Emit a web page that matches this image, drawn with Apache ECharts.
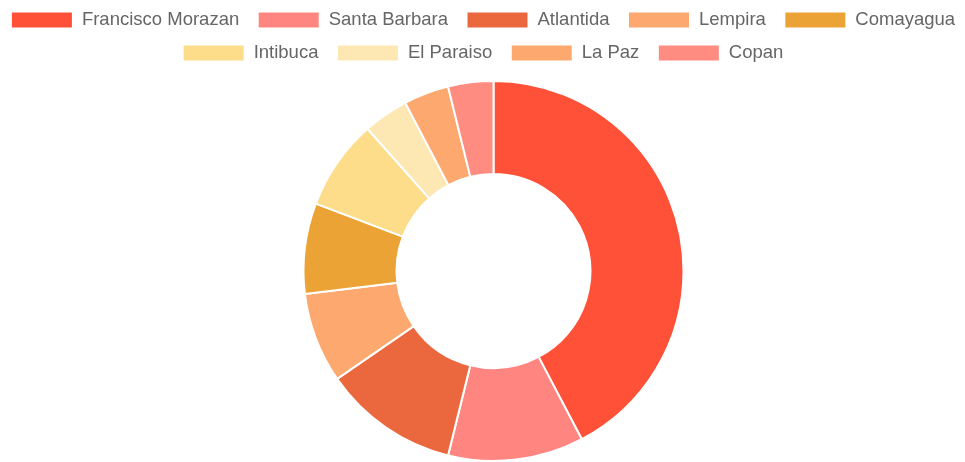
<html>
<head>
    <meta charset="utf-8">
    <title>Doughnut</title>
    <script src="https://cdn.jsdelivr.net/npm/echarts@6/dist/echarts.min.js"></script>
    <style>
        html, body { margin: 0; padding: 0; background: #fff; }
        #main { width: 965px; height: 462px; }
    </style>
</head>
<body>
<div id="main"></div>
<script>
    var departments = ['Francisco Morazan', 'Santa Barbara', 'Atlantida', 'Lempira', 'Comayagua',
        'Intibuca', 'El Paraiso', 'La Paz', 'Copan']
    var counts = [11, 3, 3, 2, 2, 2, 1, 1, 1]
    var colors = ['#FF5138', '#FF8680', '#EB683F', '#FCA86E', '#ECA336',
        '#FDDC8A', '#FDE8B4', '#FCA86E', '#FF8C80']

    var myChart = echarts.init(document.getElementById('main'))

    // two centred legend rows, like the original
    function legendRow(names, top) {
        return {
            data: names,
            top: top,
            left: 'center',
            itemWidth: 62,
            itemHeight: 17,
            itemGap: 17.5,
            icon: 'rect',
            textStyle: {
                fontFamily: 'Liberation Sans, Arial, sans-serif',
                fontSize: 18.5,
                color: '#666',
                padding: [0, 0, 0, 4]
            }
        }
    }

    myChart.setOption({
        animation: false,
        color: colors,
        legend: [
            legendRow(departments.slice(0, 5), 5.5),
            legendRow(departments.slice(5), 38.5)
        ],
        series: [
            {
                type: 'pie',
                center: [493.5, 271],
                radius: [97, 190],
                startAngle: 90,
                clockwise: true,
                label: { show: false },
                labelLine: { show: false },
                emphasis: { disabled: true },
                itemStyle: {
                    borderColor: '#fff',
                    borderWidth: 2
                },
                data: departments.map(function (name, i) {
                    return { name: name, value: counts[i] }
                })
            }
        ]
    })
</script>
</body>
</html>
